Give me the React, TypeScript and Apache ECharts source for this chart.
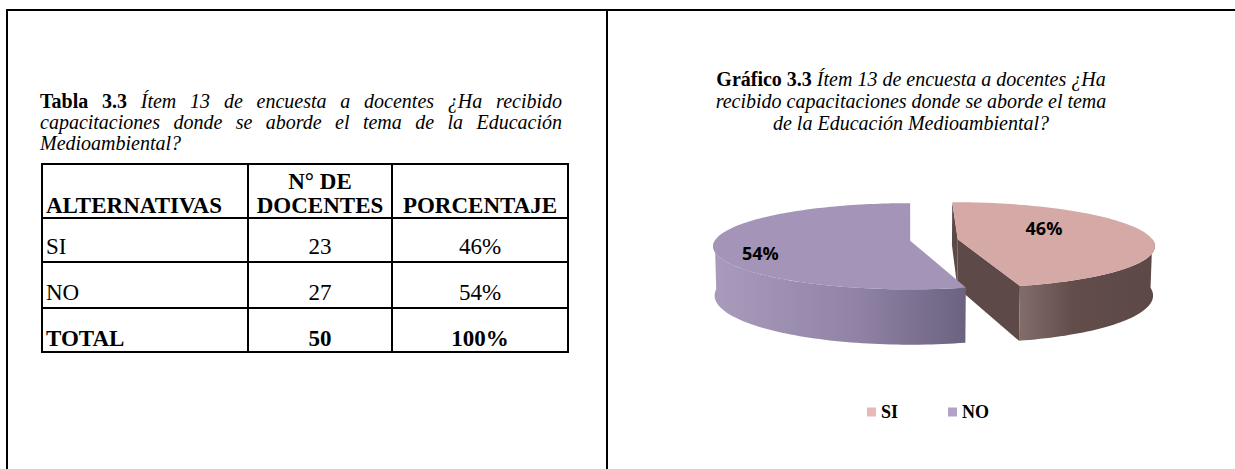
import { useEffect, useRef } from "react";
import * as echarts from "echarts";

// ---------------- data ----------------
const ALTERNATIVAS = ["SI", "NO"];
const N_DOCENTES = [23, 27];
const PORCENTAJES = ["46%", "54%"];
const TOTAL_ROW = ["TOTAL", "50", "100%"];
const HEADERS = ["ALTERNATIVAS", "N° DE\nDOCENTES", "PORCENTAJE"];
const TABLE_TITLE = "Tabla 3.3";
const TABLE_CAPTION = [
  "Ítem 13 de encuesta a docentes ¿Ha recibido",
  "capacitaciones donde se aborde el tema de la Educación",
  "Medioambiental?",
];
const CHART_TITLE = "Gráfico 3.3";
const CHART_CAPTION = [
  "Ítem 13 de encuesta a docentes ¿Ha",
  "recibido capacitaciones donde se aborde el tema",
  "de la Educación Medioambiental?",
];

// ---------------- layout / style ----------------
const SERIF = "Liberation Serif";
const CAP_SIZE = 20;
const TAB_SIZE = 23;
const TAB_LH = 24;
const COL_X = [41, 247, 391, 567];
const ROW_Y = [163, 217, 261, 307, 351];
const LEFT_CAP = { x0: 40, x1: 562, ys: [101, 122, 143] };
const RIGHT_CAP = { cx: 911, ys: [79, 101, 123] };

const LEGEND_COLORS = ["#E6B9B8", "#B3A2C7"];
const SLICE_STYLE = [
  {
    top: "#D4A9A6",
    cut: "#5D4947",
    side: [
      [0, "#836D6B"],
      [0.4, "#624D4B"],
      [1, "#5C4846"],
    ],
  },
  {
    top: "#A394B8",
    cut: "#6B6280",
    side: [
      [0, "#A99BBC"],
      [0.55, "#9284A6"],
      [1, "#6B6280"],
    ],
  },
];
const LABEL_SHIFT = [-23.6, -13.6];
const LABEL_R = [0.545, 0.79];

const P = { cx: 934, cy: 240, camX: -24, R: 195, D: 50, tilt: 12.5, L: 1464, explode: 24 };
const DEG = Math.PI / 180;
const SA = Math.sin(P.tilt * DEG);
const CA = Math.cos(P.tilt * DEG);

function project(X: number, Y: number, Z: number): number[] {
  const yc = Y * CA - Z * SA;
  const zc = P.L - Y * SA - Z * CA;
  const k = P.L / zc;
  return [P.cx + P.camX + (X - P.camX) * k, P.cy - yc * k];
}

function renderSlice(i: number) {
  const total = N_DOCENTES.reduce((a, b) => a + b, 0);
  const before = N_DOCENTES.slice(0, i).reduce((a, b) => a + b, 0);
  const a0 = (before / total) * 360;
  const a1 = ((before + N_DOCENTES[i]) / total) * 360;
  const mid = (a0 + a1) / 2;
  const ox = P.explode * Math.sin(mid * DEG);
  const oz = -P.explode * Math.cos(mid * DEG);
  const pt = (a: number, r: number, Y: number) =>
    project(ox + r * Math.sin(a * DEG), Y, oz - r * Math.cos(a * DEG));
  const arc = (from: number, to: number, r: number, Y: number) => {
    const n = Math.max(2, Math.ceil(Math.abs(to - from) / 1.5));
    const pts: number[][] = [];
    for (let k = 0; k <= n; k++) pts.push(pt(from + ((to - from) * k) / n, r, Y));
    return pts;
  };
  const st = SLICE_STYLE[i];
  const children: any[] = [];
  const ex = P.camX - ox;
  const ez = P.L * CA - oz;
  [
    [a0, a0 - 90],
    [a1, a1 + 90],
  ].forEach(([a, nA]) => {
    const nx = Math.sin(nA * DEG);
    const nz = -Math.cos(nA * DEG);
    if (nx * ex + nz * ez > 0.01) {
      children.push({
        type: "polygon",
        shape: { points: [pt(a, 0, 0), pt(a, P.R, 0), pt(a, P.R, -P.D), pt(a, 0, -P.D)] },
        style: { fill: st.cut },
      });
    }
  });
  const s0 = Math.max(a0, 90);
  const s1 = Math.min(a1, 270);
  if (s1 > s0) {
    children.push({
      type: "polygon",
      shape: { points: arc(s0, s1, P.R, 0).concat(arc(s1, s0, P.R, -P.D)) },
      style: {
        fill: new echarts.graphic.LinearGradient(
          0,
          0,
          1,
          0,
          st.side.map(([o, c]) => ({ offset: o as number, color: c as string }))
        ),
      },
    });
  }
  children.push({
    type: "polygon",
    shape: { points: [pt(a0, 0, 0)].concat(arc(a0, a1, P.R, 0)) },
    style: { fill: st.top },
  });
  const lp = pt(mid + LABEL_SHIFT[i], LABEL_R[i] * P.R, 0);
  children.push({
    type: "text",
    x: lp[0],
    y: lp[1],
    style: {
      text: PORCENTAJES[i],
      fontFamily: "Open Sans",
      fontWeight: "bold",
      fontSize: 18,
      fill: "#000",
      align: "center",
      verticalAlign: "middle",
    },
  });
  return { type: "group", children };
}

// ---------------- text helpers ----------------
let measureCtx: CanvasRenderingContext2D | null = null;
function measure(text: string, bold: boolean, italic: boolean, size: number) {
  if (!measureCtx) measureCtx = document.createElement("canvas").getContext("2d");
  measureCtx!.font = `${italic ? "italic " : ""}${bold ? "bold " : ""}${size}px "${SERIF}"`;
  return measureCtx!.measureText(text).width;
}

type Tok = { text: string; bold: boolean; italic: boolean };
function tokens(title: string | null, line: string): Tok[] {
  const out: Tok[] = [];
  if (title) title.split(" ").forEach((w) => out.push({ text: w, bold: true, italic: false }));
  line.split(" ").forEach((w) => out.push({ text: w, bold: false, italic: true }));
  return out;
}

function layoutLine(toks: Tok[], y: number, mode: string, a: number, b: number) {
  const ws = toks.map((t) => measure(t.text, t.bold, t.italic, CAP_SIZE));
  const sum = ws.reduce((s, w) => s + w, 0);
  const sp = measure(" ", false, true, CAP_SIZE);
  let gap = sp;
  let x = a;
  if (mode === "justify") gap = (b - a - sum) / (toks.length - 1);
  else if (mode === "center") x = a - (sum + sp * (toks.length - 1)) / 2;
  return toks.map((t, k) => {
    const el = {
      type: "text",
      x,
      y,
      style: {
        text: t.text,
        fontFamily: SERIF,
        fontSize: CAP_SIZE,
        fontWeight: t.bold ? "bold" : "normal",
        fontStyle: t.italic ? "italic" : "normal",
        fill: "#000",
        align: "left",
        verticalAlign: "middle",
      },
    };
    x += ws[k] + gap;
    return el;
  });
}

function cellText(text: string, col: number, rowBottom: number, bold: boolean, off: number) {
  const left = col === 0;
  return {
    type: "text",
    x: left ? COL_X[0] + 5 : (COL_X[col] + COL_X[col + 1] + 2) / 2,
    y: rowBottom - off,
    style: {
      text,
      fontFamily: SERIF,
      fontSize: TAB_SIZE,
      fontWeight: bold ? "bold" : "normal",
      lineHeight: TAB_LH,
      fill: "#000",
      align: left ? "left" : "center",
      verticalAlign: "bottom",
    },
  };
}

function buildGraphic() {
  const g: any[] = [];
  const rect = (x: number, y: number, w: number, h: number) => ({
    type: "rect",
    shape: { x, y, width: w, height: h },
    style: { fill: "#000" },
  });
  // page frame
  g.push(rect(6, 9, 1229, 2));
  g.push(rect(6, 9, 2, 460));
  g.push(rect(606, 9, 2, 460));
  // table grid
  COL_X.forEach((x) => g.push(rect(x, ROW_Y[0], 2, ROW_Y[ROW_Y.length - 1] - ROW_Y[0] + 2)));
  ROW_Y.forEach((y) => g.push(rect(COL_X[0], y, COL_X[COL_X.length - 1] - COL_X[0] + 2, 2)));
  // header
  HEADERS.forEach((h, c) => g.push(cellText(h, c, ROW_Y[1], true, 0)));
  // rows
  ALTERNATIVAS.forEach((a, r) => {
    const row = [a, String(N_DOCENTES[r]), PORCENTAJES[r]];
    row.forEach((t, c) => g.push(cellText(t, c, ROW_Y[r + 2], false, 3)));
  });
  TOTAL_ROW.forEach((t, c) => g.push(cellText(t, c, ROW_Y[4], true, 1)));
  // captions
  TABLE_CAPTION.forEach((line, k) => {
    const toks = tokens(k === 0 ? TABLE_TITLE : null, line);
    const mode = k === TABLE_CAPTION.length - 1 ? "left" : "justify";
    g.push(...layoutLine(toks, LEFT_CAP.ys[k], mode, LEFT_CAP.x0, LEFT_CAP.x1));
  });
  CHART_CAPTION.forEach((line, k) => {
    const toks = tokens(k === 0 ? CHART_TITLE : null, line);
    g.push(...layoutLine(toks, RIGHT_CAP.ys[k], "center", RIGHT_CAP.cx, 0));
  });
  return g;
}

export default function App() {
  const ref = useRef<HTMLDivElement>(null);
  useEffect(() => {
    const chart = echarts.init(ref.current!, null, { renderer: "svg" });
    chart.setOption({
      animation: false,
      backgroundColor: "#ffffff",
      legend: {
        data: ALTERNATIVAS,
        left: 867,
        top: 403,
        padding: 0,
        icon: "rect",
        itemWidth: 9,
        itemHeight: 9,
        itemGap: 50,
        selectedMode: false,
        textStyle: { fontFamily: SERIF, fontWeight: "bold", fontSize: 18, color: "#000" },
      },
      series: ALTERNATIVAS.map((name, i) => ({
        type: "custom",
        name,
        coordinateSystem: "none",
        data: [N_DOCENTES[i]],
        itemStyle: { color: LEGEND_COLORS[i] },
        renderItem: () => renderSlice(i),
      })),
      graphic: buildGraphic(),
    });
    return () => chart.dispose();
  }, []);
  return (
    <div
      ref={ref}
      style={{ position: "fixed", left: 0, top: 0, width: 1235, height: 469, background: "#fff" }}
    />
  );
}
